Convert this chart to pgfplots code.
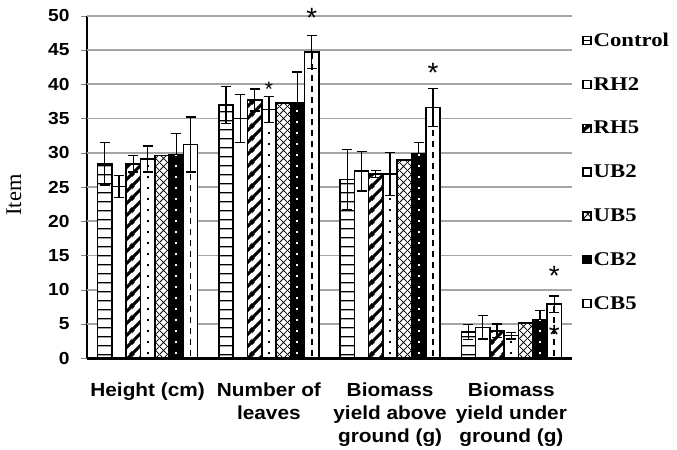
\documentclass[border=0pt]{standalone}
\usepackage{fontspec}
\setmainfont{Liberation Sans}[FakeStretch=1.1]
\newfontfamily\legfont{Liberation Serif}[FakeStretch=1.17]
\newfontfamily\labfont{Liberation Serif}
\newfontfamily\starfont{Liberation Sans}
\usepackage{pgfplots}
\usepackage{pgfplotstable}
\pgfplotsset{compat=1.18}
\usetikzlibrary{patterns}
\definecolor{gridgray}{RGB}{165,165,165}

\pgfdeclarepatternformonly{hl}{\pgfqpoint{0bp}{0bp}}{\pgfqpoint{4bp}{9.2bp}}{\pgfqpoint{4bp}{9.2bp}}{%
 \pgfsetlinewidth{1.4bp}\pgfpathmoveto{\pgfqpoint{-1bp}{4.6bp}}\pgfpathlineto{\pgfqpoint{5bp}{4.6bp}}\pgfusepath{stroke}}
\pgfdeclarepatternformonly{ne}{\pgfqpoint{0bp}{0bp}}{\pgfqpoint{12bp}{12bp}}{\pgfqpoint{12bp}{12bp}}{%
 \pgfsetlinewidth{3.4bp}
 \pgfpathmoveto{\pgfqpoint{-2bp}{-2bp}}\pgfpathlineto{\pgfqpoint{14bp}{14bp}}
 \pgfpathmoveto{\pgfqpoint{-2bp}{10bp}}\pgfpathlineto{\pgfqpoint{2bp}{14bp}}
 \pgfpathmoveto{\pgfqpoint{10bp}{-2bp}}\pgfpathlineto{\pgfqpoint{14bp}{2bp}}
 \pgfusepath{stroke}}
\pgfdeclarepatternformonly{xh}{\pgfqpoint{0bp}{0bp}}{\pgfqpoint{8bp}{8bp}}{\pgfqpoint{8bp}{8bp}}{%
 \pgfsetlinewidth{0.8bp}
 \pgfpathmoveto{\pgfqpoint{-1bp}{-1bp}}\pgfpathlineto{\pgfqpoint{9bp}{9bp}}
 \pgfpathmoveto{\pgfqpoint{-1bp}{9bp}}\pgfpathlineto{\pgfqpoint{9bp}{-1bp}}
 \pgfusepath{stroke}}

\pgfplotstableread{
x ctl ctle rhb rhbe rhe rhee uba ubae ubb ubbe cba cbae cbb cbbe
0 28.4 3.1 25.1 1.6 28.4 1.2 29.1 1.9 29.6 0 29.7 3.1 31.2 4.0
1 37.0 2.7 35.0 3.5 37.7 1.6 36.3 1.9 37.3 0 37.3 4.5 44.7 2.4
2 26.1 4.4 27.3 2.9 26.9 0.5 26.9 3.1 28.9 0 29.9 1.6 36.6 2.8
3 3.8 1.1 4.5 1.7 4.0 1.0 3.3 0.5 5.15 0 5.6 1.4 7.9 1.2
}\data

\pgfplotsset{
 mybar/.style={ybar, bar width=14.3bp, bar shift=0pt, xshift=#1, draw=black, line width=1.6bp,
   legend image code/.code={\draw[##1, xshift={-(#1)}, line width=1.5bp] (0bp,-4bp) rectangle (8bp,4bp);},
   error bars/y dir=both, error bars/y explicit,
   error bars/error bar style={line width=1.3bp, black, solid},
   error bars/error mark options={rotate=90, mark size=5bp, line width=1.3bp, black, solid}},
}

\begin{document}
\begin{tikzpicture}
\path[use as bounding box] (0,0) rectangle (677bp,450bp);
\begin{axis}[
 at={(87bp,91.7bp)}, anchor=south west, scale only axis,
 width=485bp, height=342.6bp,
 xmin=-0.5, xmax=3.5, ymin=0, ymax=50, ytick={0,5,...,50},
 xtick={0,1,2,3},
 xticklabels={{Height (cm)},{Number of\\leaves},{Biomass\\yield above\\ground (g)},{Biomass\\yield under\\ground (g)}},
 axis x line*=bottom, axis y line*=left,
 x axis line style={line width=2.4bp, -},
 y axis line style={line width=1.6bp, -},
 major tick length=6bp, tick align=outside,
 xtick style={draw=none},
 /pgf/number format/assume math mode=true,
 yticklabel style={font=\bfseries\fontsize{17.5}{20}\selectfont, xshift=-8bp},
 xticklabel style={font=\bfseries\fontsize{19}{23}\selectfont, align=center, yshift=-15bp},
 clip=false,
 legend cell align=left,
 legend style={at={(1,1)}, anchor=north west, xshift=10bp, yshift=-15bp,
   draw=none, fill=none, inner sep=0pt,
   font=\legfont\bfseries\fontsize{19.5}{20}\selectfont, row sep=25.5bp,
   /tikz/every even column/.style={column sep=2bp}},
]
\draw[draw=gridgray, line width=1.8bp] (axis cs:-0.5,5) -- (axis cs:3.5,5);
\draw[draw=gridgray, line width=1.8bp] (axis cs:-0.5,10) -- (axis cs:3.5,10);
\draw[draw=gridgray, line width=1.8bp] (axis cs:-0.5,15) -- (axis cs:3.5,15);
\draw[draw=gridgray, line width=1.8bp] (axis cs:-0.5,20) -- (axis cs:3.5,20);
\draw[draw=gridgray, line width=1.8bp] (axis cs:-0.5,25) -- (axis cs:3.5,25);
\draw[draw=gridgray, line width=1.8bp] (axis cs:-0.5,30) -- (axis cs:3.5,30);
\draw[draw=gridgray, line width=1.8bp] (axis cs:-0.5,35) -- (axis cs:3.5,35);
\draw[draw=gridgray, line width=1.8bp] (axis cs:-0.5,40) -- (axis cs:3.5,40);
\draw[draw=gridgray, line width=1.8bp] (axis cs:-0.5,45) -- (axis cs:3.5,45);
\draw[draw=gridgray, line width=1.8bp] (axis cs:-0.5,50) -- (axis cs:3.5,50);
\addplot[mybar=-42.9bp, fill=white, postaction={pattern=hl}] table[x=x, y=ctl, y error=ctle]{\data};
\addlegendentry{Control}
\addplot[mybar=-28.6bp, fill=white] table[x=x, y=rhb, y error=rhbe]{\data};
\addlegendentry{RH2}
\addplot[mybar=-14.3bp, fill=white, postaction={pattern=ne}] table[x=x, y=rhe, y error=rhee]{\data};
\addlegendentry{RH5}
\addplot[mybar=0bp, fill=white] table[x=x, y=uba, y error=ubae]{\data};
\addlegendentry{UB2}
\addplot[mybar=14.3bp, fill=white, postaction={pattern=xh}] table[x=x, y=ubb, y error=ubbe]{\data};
\addlegendentry{UB5}
\addplot[mybar=28.6bp, fill=black] table[x=x, y=cba, y error=cbae]{\data};
\addlegendentry{CB2}
\addplot[mybar=42.9bp, fill=white] table[x=x, y=cbb, y error=cbbe]{\data};
\addlegendentry{CB5}
% inner column patterns
\addplot[forget plot, ycomb, mark=none, black, line width=2bp, dash pattern=on 1.8bp off 9.2bp, dash phase=-4bp] table[x=x, y=uba]{\data};
\addplot[forget plot, ycomb, mark=none, white, line width=2bp, dash pattern=on 1.8bp off 9.2bp, dash phase=-4bp, xshift=28.6bp] table[x=x, y=cba]{\data};
\addplot[forget plot, ycomb, mark=none, black, line width=1.6bp, dash pattern=on 6bp off 5bp, dash phase=-2bp, xshift=42.9bp] table[x=x, y=cbb]{\data};
% significance stars
\node[anchor=north, inner sep=0pt, font=\starfont\fontsize{28}{28}\selectfont] at ([xshift=42.9bp]axis cs:1,51.1) {*};
\node[anchor=north, inner sep=0pt, font=\starfont\fontsize{21}{21}\selectfont] at ([xshift=0bp]axis cs:1,40.4) {*};
\node[anchor=north, inner sep=0pt, font=\starfont\fontsize{28}{28}\selectfont] at ([xshift=42.9bp]axis cs:2,43.05) {*};
\node[anchor=north, inner sep=0pt, font=\starfont\fontsize{28}{28}\selectfont] at ([xshift=42.9bp]axis cs:3,13.5) {*};
\node[anchor=north, inner sep=0pt, font=\starfont\fontsize{28}{28}\selectfont] at ([xshift=42.9bp]axis cs:3,4.86) {*};
\end{axis}
\node[rotate=90, font=\labfont\fontsize{22.5}{24}\selectfont] at (14bp,255bp) {Item};
\end{tikzpicture}
\end{document}
